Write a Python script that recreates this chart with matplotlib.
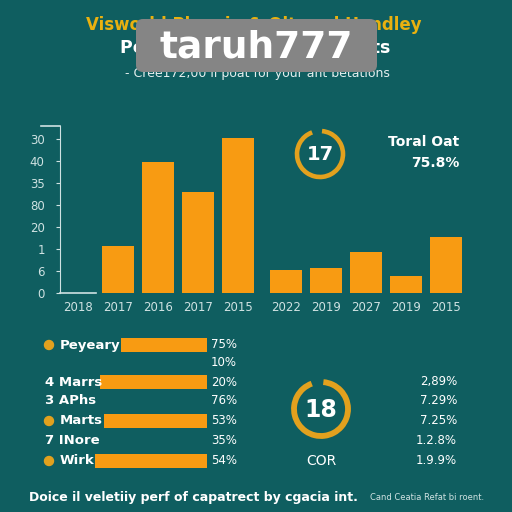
import numpy as np
import matplotlib
matplotlib.use("Agg")
import matplotlib.pyplot as plt
from matplotlib.patches import Arc, FancyBboxPatch, Circle

# ---- data ----
year_labels = ["2018", "2017", "2016", "2017", "2015",
               "2022", "2019", "2027", "2019", "2015"]
bar_values = [0, 10.7, 29.8, 23.0, 35.2, 5.2, 5.7, 9.3, 3.9, 12.7]
ytick_labels = ["0", "6", "1", "20", "80", "35", "40", "30"]

row_names = ["Peyeary", "", "4 Marrs", "3 APhs", "Marts", "7 INore", "Wirk"]
row_dots = [True, False, False, False, True, False, True]
row_bars = [86, 0, 107, 0, 103, 0, 112]
row_pcts = ["75%", "10%", "20%", "76%", "53%", "35%", "54%"]
right_pcts = ["2,89%", "7.29%", "7.25%", "1.2.8%", "1.9.9%"]

gauge_top = "17"
gauge_bottom = "18"
total_label = "Toral Oat"
total_value = "75.8%"

BG = "#0f5e60"
ORANGE = "#f89b12"
RING = "#e2a11e"
GOLD = "#e9b10f"
AXIS = "#cfe2e2"

fig = plt.figure(figsize=(5.12, 5.12), dpi=100, facecolor=BG)

# ---- bar chart ----
ax = fig.add_axes([60 / 512, (512 - 293) / 512, 402 / 512, 167 / 512])
ax.set_facecolor("none")
xpos = np.concatenate([np.arange(5), np.arange(5) + 5.2])
ax.bar(xpos, bar_values, width=0.8, color=ORANGE)
ax.set_xlim(-0.45, 9.6)
ax.set_ylim(0, 38)
ax.set_yticks(np.arange(0, 40, 5))
ax.set_yticklabels(ytick_labels)
ax.set_xticks(xpos)
ax.set_xticklabels(year_labels)
ax.tick_params(axis="y", colors=AXIS, labelsize=8.5, length=3, pad=8)
ax.tick_params(axis="x", colors=AXIS, labelsize=8.5, length=0, pad=6)
for s in ["top", "right", "bottom"]:
    ax.spines[s].set_visible(False)
ax.spines["left"].set_color(AXIS)
ax.plot([-0.45, 0.45], [0, 0], color=AXIS, lw=1.2, clip_on=False)
ax.plot([-0.047, 0], [1, 1], color=AXIS, lw=1.2, transform=ax.transAxes, clip_on=False)

# ---- overlay in pixel units ----
ov = fig.add_axes([0, 0, 1, 1])
ov.set_xlim(0, 512)
ov.set_ylim(512, 0)
ov.axis("off")
ov.set_facecolor("none")

ov.text(254, 25, "Visworld Plannin & Oltured Handley", color=GOLD, fontsize=12,
        fontweight="bold", ha="center", va="center")
ov.text(255, 48, "Potumal Cortbonal Recruits", color="white", fontsize=12.5,
        fontweight="bold", ha="center", va="center")
ov.text(257, 74, "- Cree172,00 ii poat for your ant betations", color="#e4eeee",
        fontsize=9, ha="center", va="center")

# gauges
def gauge(cx, cy, r, lw, label, fs):
    ov.add_patch(Arc((cx, cy), 2 * r, 2 * r, theta1=-85, theta2=250,
                     color=RING, lw=lw))
    ov.text(cx, cy + 1, label, color="white", fontsize=fs, fontweight="bold",
            ha="center", va="center")

gauge(320, 154, 23, 3.3, gauge_top, 14)
gauge(321, 409, 27, 4.2, gauge_bottom, 17)
ov.text(321, 461, "COR", color="white", fontsize=10, ha="center", va="center")

ov.text(459, 142, total_label, color="white", fontsize=10, fontweight="bold",
        ha="right", va="center")
ov.text(459, 163, total_value, color="white", fontsize=10, fontweight="bold",
        ha="right", va="center")

# rows
row_y = [345, 363, 382, 401, 421, 441, 461]
bar_right = 207
ov.barh(row_y, row_bars, left=[bar_right - b for b in row_bars], height=14,
        color=ORANGE)
for y, name, dot, pct in zip(row_y, row_names, row_dots, row_pcts):
    if dot:
        ov.add_patch(Circle((49, y), 4.5, color=RING))
        ov.text(60, y, name, color="white", fontsize=9.5, fontweight="bold",
                ha="left", va="center")
    else:
        ov.text(45, y, name, color="white", fontsize=9.5, fontweight="bold",
                ha="left", va="center")
    ov.text(211, y, pct, color="white", fontsize=8.5, ha="left", va="center")

for y, p in zip(row_y[2:], right_pcts):
    ov.text(457, y, p, color="white", fontsize=8.5, ha="right", va="center")

ov.text(29, 497, "Doice il veletiiy perf of capatrect by cgacia int.", color="white",
        fontsize=9, fontweight="bold", ha="left", va="center")
ov.text(484, 498, "Cand Ceatia Refat bi roent.", color="#cfe2e2", fontsize=6,
        ha="right", va="center")

# watermark overlay
ov.add_patch(FancyBboxPatch((136, 19), 241, 53, boxstyle="round,pad=0,rounding_size=7",
                            facecolor="#858585", edgecolor="none", zorder=5))
ov.text(256, 47, "taruh777", color="white", fontsize=27, fontweight="bold",
        ha="center", va="center", zorder=6)

fig.savefig("out.png", dpi=100, facecolor=BG)
